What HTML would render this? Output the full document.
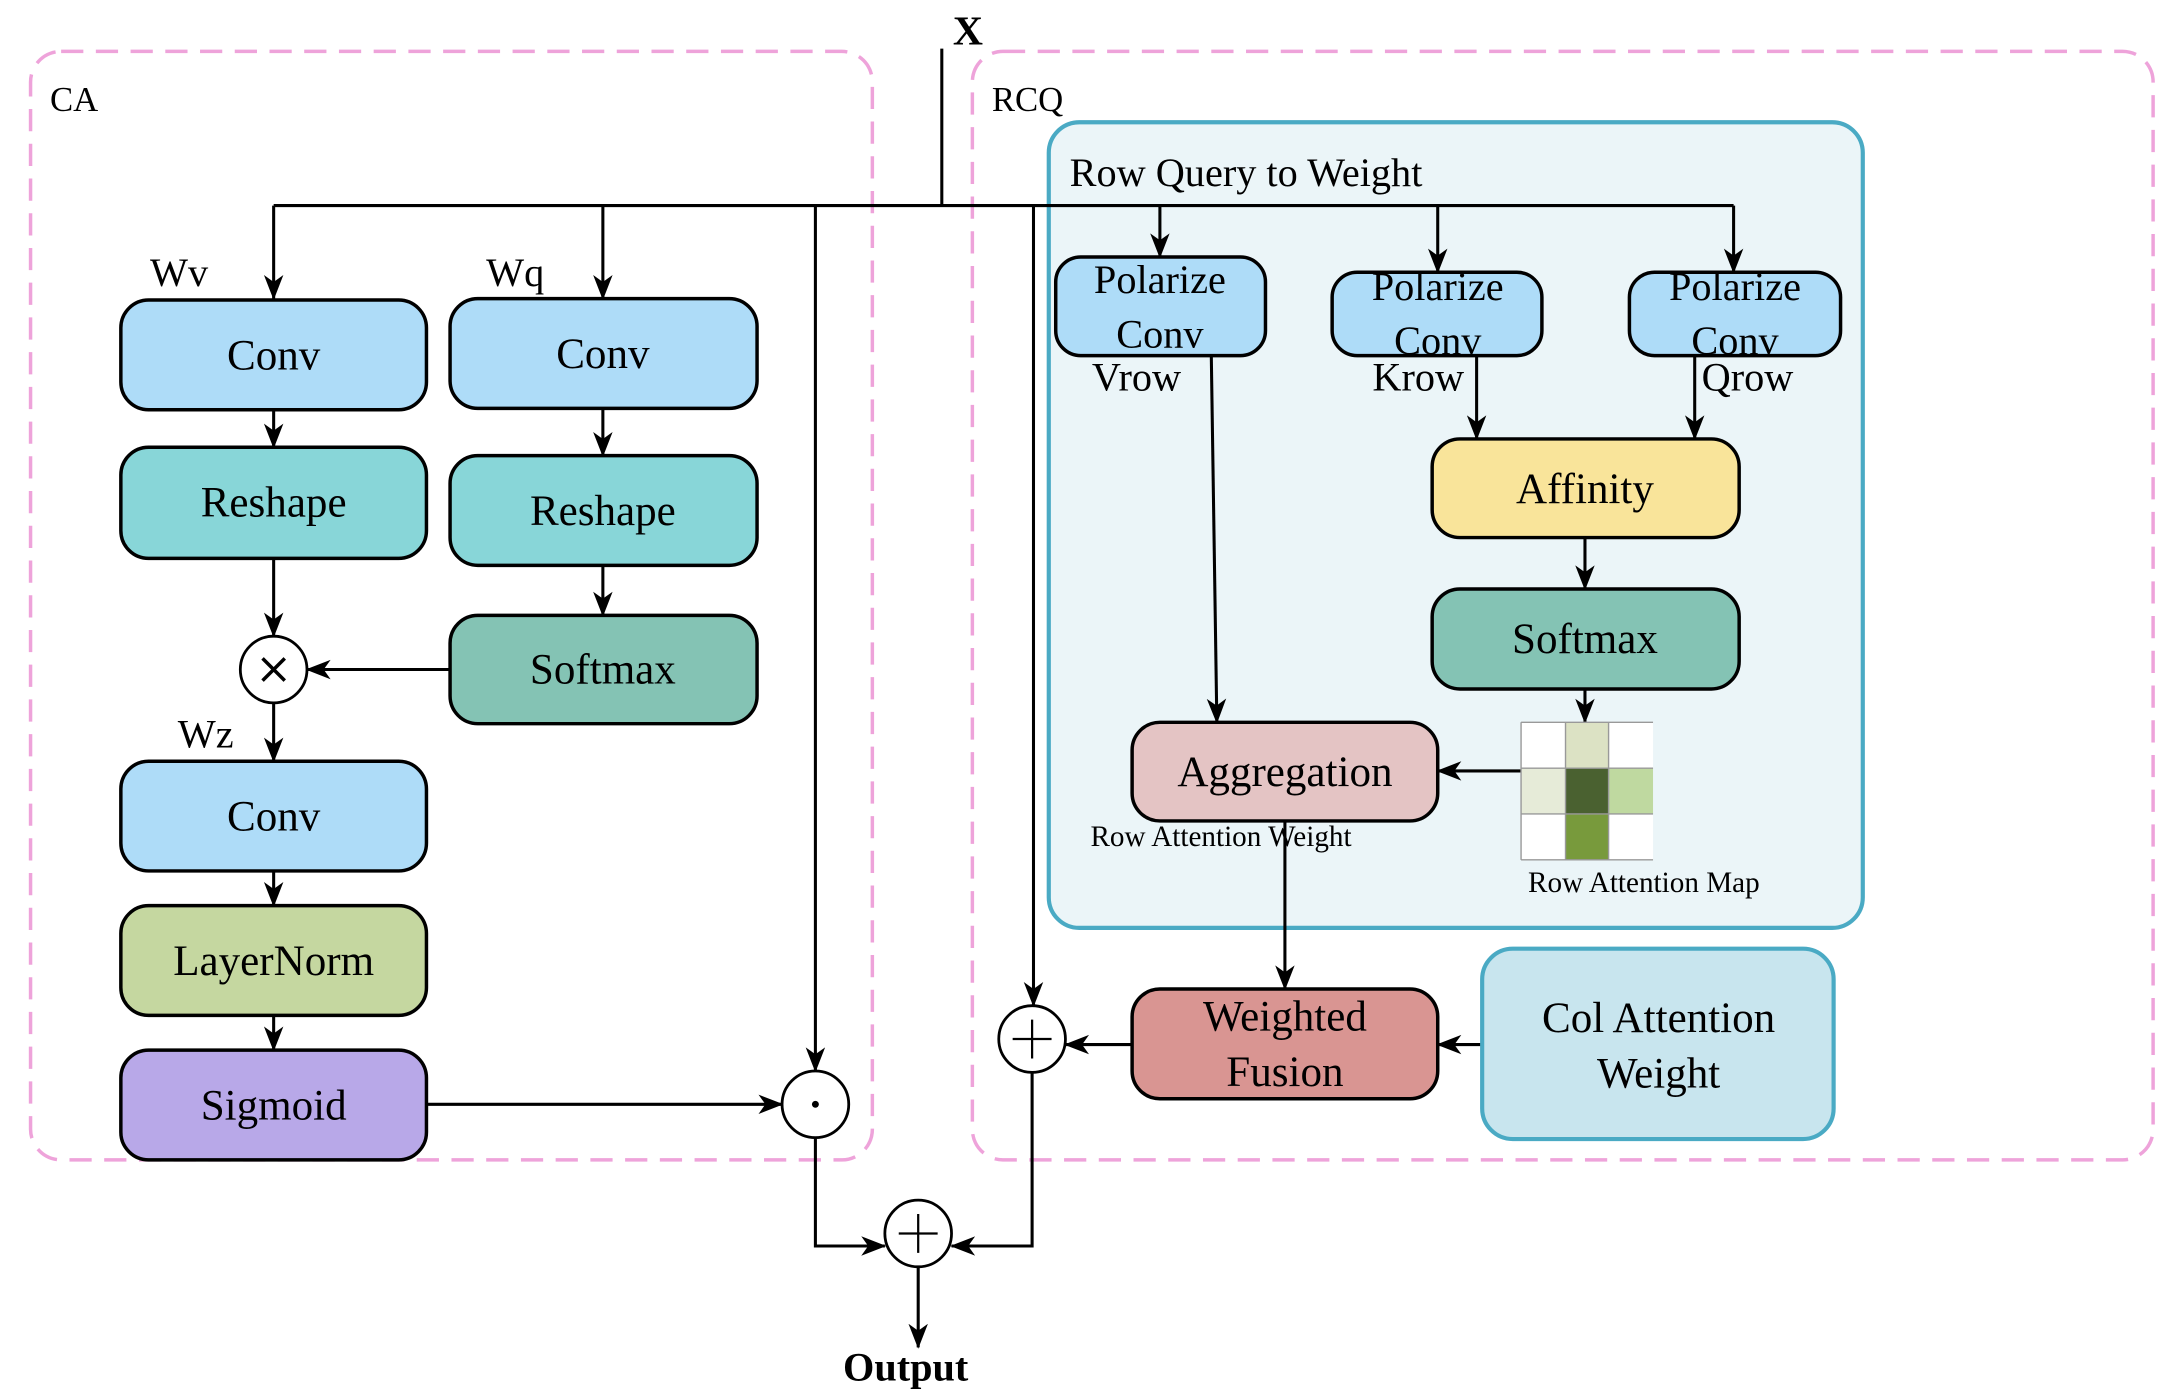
<!DOCTYPE html>
<html><head><meta charset="utf-8"><style>
html,body{margin:0;padding:0;background:#fff}
svg{display:block}
text{font-family:"Liberation Serif",serif;fill:#000}
</style></head><body>
<svg width="2167" height="1396" viewBox="0 0 1560 1005" preserveAspectRatio="none" xmlns="http://www.w3.org/2000/svg">
<defs>
<marker id="a" markerWidth="10" markerHeight="10" refX="9" refY="5" orient="auto" markerUnits="userSpaceOnUse" viewBox="0 0 10 10"><path d="M0,0 L10,5 L0,10 L3,5 z" fill="#000" transform="scale(1)"/></marker>
<marker id="b" markerWidth="18" markerHeight="18" refX="17" refY="9" orient="auto" markerUnits="userSpaceOnUse" viewBox="0 0 18 18"><path d="M0,2 L18,9 L0,16 L5,9 z" fill="#000"/></marker>
</defs>
<!-- dashed groups -->
<rect x="22" y="37" width="606" height="798" rx="22" fill="none" stroke="#EEA3DA" stroke-width="2.5" stroke-dasharray="16 9"/>
<rect x="700" y="37" width="850" height="798" rx="22" fill="none" stroke="#EEA3DA" stroke-width="2.5" stroke-dasharray="16 9"/>
<text x="36" y="80" font-size="25">CA</text>
<text x="714" y="80" font-size="25">RCQ</text>
<text x="686" y="32" font-size="30" font-weight="bold">X</text>
<!-- RCQ inner -->
<rect x="755" y="88" width="586" height="580" rx="22" fill="#EBF5F8" stroke="#4AAAC4" stroke-width="3"/>
<text x="770" y="134" font-size="29">Row Query to Weight</text>
<!-- input lines -->
<g stroke="#000" stroke-width="2.2" fill="none">
<path d="M678,35 V148"/>
<path d="M197,148 H1248"/>
<path d="M197,148 V215" marker-end="url(#b)"/>
<path d="M434,148 V215" marker-end="url(#b)"/>
<path d="M587,148 V771" marker-end="url(#b)"/>
<path d="M744,148 V724" marker-end="url(#b)"/>
<path d="M835,148 V185" marker-end="url(#b)"/>
<path d="M1035,148 V196" marker-end="url(#b)"/>
<path d="M1248,148 V196" marker-end="url(#b)"/>
<!-- CA internals -->
<path d="M197,295 V322" marker-end="url(#b)"/>
<path d="M434,294 V328" marker-end="url(#b)"/>
<path d="M434,407 V443" marker-end="url(#b)"/>
<path d="M197,402 V458" marker-end="url(#b)"/>
<path d="M324,482 H221" marker-end="url(#b)"/>
<path d="M197,506 V548" marker-end="url(#b)"/>
<path d="M197,627 V652" marker-end="url(#b)"/>
<path d="M197,731 V756" marker-end="url(#b)"/>
<path d="M307,795 H563" marker-end="url(#b)"/>
<path d="M587,819 V897 H637" marker-end="url(#b)"/>
<path d="M743,772 V897 H685" marker-end="url(#b)"/>
<path d="M661,912 V970" marker-end="url(#b)"/>
<!-- RCQ internals -->
<path d="M872,256 L876,520" marker-end="url(#b)"/>
<path d="M1063,256 V316" marker-end="url(#b)"/>
<path d="M1220,256 V316" marker-end="url(#b)"/>
<path d="M1141,387 V424" marker-end="url(#b)"/>
<path d="M1141,496 V520" marker-end="url(#b)"/>
<path d="M1095,555 H1035" marker-end="url(#b)"/>
<path d="M925,591 V712" marker-end="url(#b)"/>
<path d="M1067,752 H1035" marker-end="url(#b)"/>
<path d="M815,752 H767" marker-end="url(#b)"/>
</g>
<!-- CA boxes -->
<g stroke="#000" stroke-width="2.5">
<rect x="87" y="216" width="220" height="79" rx="20" fill="#AEDCF8"/>
<rect x="87" y="322" width="220" height="80" rx="20" fill="#88D6D8"/>
<rect x="87" y="548" width="220" height="79" rx="20" fill="#AEDCF8"/>
<rect x="87" y="652" width="220" height="79" rx="20" fill="#C5D7A0"/>
<rect x="87" y="756" width="220" height="79" rx="20" fill="#B8A8E8"/>
<rect x="324" y="215" width="221" height="79" rx="20" fill="#AEDCF8"/>
<rect x="324" y="328" width="221" height="79" rx="20" fill="#88D6D8"/>
<rect x="324" y="443" width="221" height="78" rx="20" fill="#84C3B4"/>
<!-- RCQ boxes -->
<rect x="760" y="185" width="151" height="71" rx="18" fill="#AEDCF8"/>
<rect x="959" y="196" width="151" height="60" rx="18" fill="#AEDCF8"/>
<rect x="1173" y="196" width="152" height="60" rx="18" fill="#AEDCF8"/>
<rect x="1031" y="316" width="221" height="71" rx="20" fill="#F9E49A"/>
<rect x="1031" y="424" width="221" height="72" rx="20" fill="#84C3B4"/>
<rect x="815" y="520" width="220" height="71" rx="20" fill="#E4C4C4"/>
<rect x="815" y="712" width="220" height="79" rx="20" fill="#D99592"/>
</g>
<rect x="1067" y="683" width="253" height="137" rx="22" fill="#C8E5EE" stroke="#4AAAC4" stroke-width="3"/>
<!-- circles -->
<g stroke="#000" stroke-width="2" fill="#fff">
<circle cx="197" cy="482" r="24"/>
<circle cx="587" cy="795" r="24"/>
<circle cx="743" cy="748" r="24"/>
<circle cx="661" cy="888" r="24"/>
</g>
<g stroke="#000" stroke-width="2.5">
<path d="M189,474 L205,490 M205,474 L189,490"/>
</g>
<g stroke="#000" stroke-width="1.6">
<path d="M743,734 V762 M729,748 H757"/>
<path d="M661,874 V902 M647,888 H675"/>
</g>
<circle cx="587" cy="795" r="2.5" fill="#000"/>
<!-- map -->
<g>
<rect x="1095" y="520" width="32" height="33" fill="#fff"/>
<rect x="1127" y="520" width="31" height="33" fill="#DCE2C4"/>
<rect x="1158" y="520" width="32" height="33" fill="#fff"/>
<rect x="1095" y="553" width="32" height="33" fill="#E6EBD8"/>
<rect x="1127" y="553" width="31" height="33" fill="#4A6130"/>
<rect x="1158" y="553" width="32" height="33" fill="#BFD9A0"/>
<rect x="1095" y="586" width="32" height="33" fill="#fff"/>
<rect x="1127" y="586" width="31" height="33" fill="#789A3C"/>
<rect x="1158" y="586" width="32" height="33" fill="#fff"/>
<path d="M1095,520 H1190 M1095,553 H1190 M1095,586 H1190 M1095,619 H1190 M1095,520 V619 M1127,520 V619 M1158,520 V619" stroke="#999" stroke-width="1" fill="none"/>
</g>
<!-- text -->
<g font-size="31" text-anchor="middle">
<text x="197" y="266">Conv</text>
<text x="197" y="372">Reshape</text>
<text x="197" y="598">Conv</text>
<text x="197" y="702">LayerNorm</text>
<text x="197" y="806">Sigmoid</text>
<text x="434" y="265">Conv</text>
<text x="434" y="378">Reshape</text>
<text x="434" y="492">Softmax</text>
<text x="835" y="211" font-size="29">Polarize</text>
<text x="835" y="250" font-size="29">Conv</text>
<text x="1035" y="216" font-size="29">Polarize</text>
<text x="1035" y="255" font-size="29">Conv</text>
<text x="1249" y="216" font-size="29">Polarize</text>
<text x="1249" y="255" font-size="29">Conv</text>
<text x="1141" y="362">Affinity</text>
<text x="1141" y="470">Softmax</text>
<text x="925" y="566">Aggregation</text>
<text x="925" y="742">Weighted</text>
<text x="925" y="782">Fusion</text>
<text x="1194" y="743">Col Attention</text>
<text x="1194" y="783">Weight</text>
</g>
<g font-size="29">
<text x="108" y="206">Wv</text>
<text x="350" y="206">Wq</text>
<text x="128" y="538">Wz</text>
<text x="786" y="281">Vrow</text>
<text x="988" y="281">Krow</text>
<text x="1225" y="281">Qrow</text>
</g>
<text x="785" y="609" font-size="21">Row Attention Weight</text>
<text x="1100" y="642" font-size="21">Row Attention Map</text>
<text x="652" y="994" font-size="29" font-weight="bold" text-anchor="middle">Output</text>
</svg>
</body></html>
